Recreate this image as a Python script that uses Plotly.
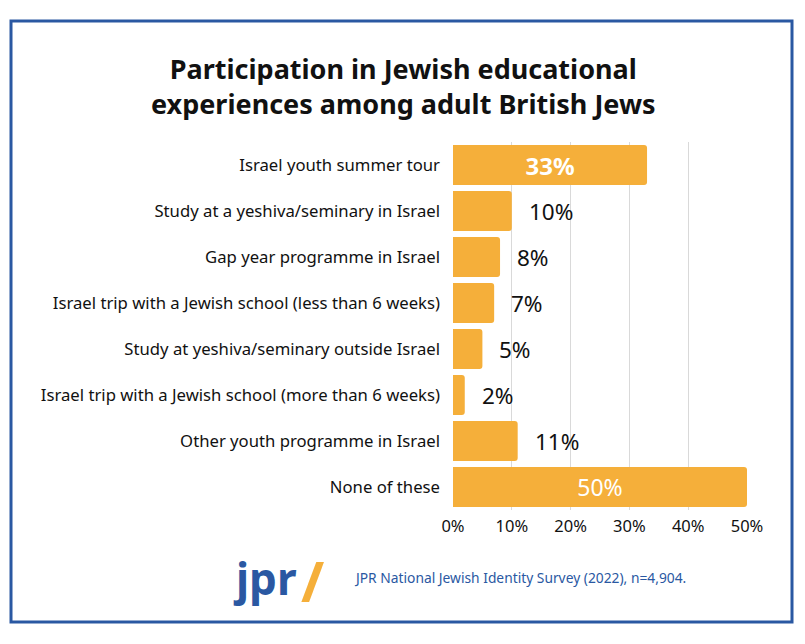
import plotly.graph_objects as go

categories = [
    "Israel youth summer tour",
    "Study at a yeshiva/seminary in Israel",
    "Gap year programme in Israel",
    "Israel trip with a Jewish school (less than 6 weeks)",
    "Study at yeshiva/seminary outside Israel",
    "Israel trip with a Jewish school (more than 6 weeks)",
    "Other youth programme in Israel",
    "None of these",
]
values = [33, 10, 8, 7, 5, 2, 11, 50]
tick_vals = [0, 10, 20, 30, 40, 50]
tick_text = ["0%", "10%", "20%", "30%", "40%", "50%"]
inside_threshold = 30

OFF = 8  # page body margin
W, H = 805 - OFF, 644 - OFF
ML, MR, MT, MB = 453 - OFF, 58, 142 - OFF, 134
FONT = "Noto Sans"
BAR = "#F5AF3A"
BLUE = "#2A58A2"

texts = [f"{v}%" if v >= inside_threshold else "" for v in values]

fig = go.Figure(go.Bar(
    x=values, y=categories, orientation="h",
    marker=dict(color=BAR, line=dict(width=0)),
    text=texts, textposition="inside", insidetextanchor="middle",
    textfont=dict(color="white", size=[24 if i == 0 else 23 for i in range(len(values))], family=FONT),
    texttemplate=[("<b>%{text}</b>" if i == 0 else "%{text}") for i in range(len(values))],
    hoverinfo="skip",
))

annotations = []
for c, v in zip(categories, values):
    if v < inside_threshold:
        annotations.append(dict(x=v, y=c, xref="x", yref="y", text=f"{v}%",
                                showarrow=False, xanchor="left", xshift=15,
                                font=dict(size=22.5, color="#111", family=FONT)))

pw = W - ML - MR
ph = H - MT - MB
def px_x(p):
    return (p - OFF - ML) / pw
def px_y(p):
    return 1 - (p - OFF - MT) / ph

# title
annotations.append(dict(x=px_x(403), y=px_y(86), xref="paper", yref="paper",
                        text="<b>Participation in Jewish educational<br>experiences among adult British Jews</b>",
                        showarrow=False, xanchor="center", yanchor="middle",
                        font=dict(size=27, color="#111", family=FONT)))
# logo
annotations.append(dict(x=px_x(231), y=px_y(578), xref="paper", yref="paper",
                        text="<b>jpr</b>", showarrow=False, xanchor="left", yanchor="middle",
                        font=dict(size=44, color=BLUE, family=FONT)))
annotations.append(dict(x=px_x(299), y=px_y(580), xref="paper", yref="paper",
                        text="<b>/</b>", showarrow=False, xanchor="left", yanchor="middle",
                        font=dict(size=56, color=BAR, family=FONT)))
annotations.append(dict(x=px_x(352), y=px_y(577), xref="paper", yref="paper",
                        text="JPR National Jewish Identity Survey (2022), n=4,904.",
                        showarrow=False, xanchor="left", yanchor="middle",
                        font=dict(size=13.8, color=BLUE, family=FONT)))

fig.update_layout(
    width=W, height=H,
    margin=dict(l=ML, r=MR, t=MT, b=MB, pad=0),
    paper_bgcolor="white", plot_bgcolor="white",
    showlegend=False,
    bargap=0.13,
    barcornerradius=3,
    font=dict(family=FONT, color="#111"),
    xaxis=dict(range=[0, 50], tickvals=tick_vals, ticktext=tick_text,
               showgrid=True, gridcolor="#D9D9D9", gridwidth=1,
               zeroline=False, showline=False, ticks="",
               ticklabelstandoff=4,
               tickfont=dict(size=16.5, color="#111"), fixedrange=True),
    yaxis=dict(autorange="reversed", showgrid=False, zeroline=False, ticks="",
               ticklabelstandoff=12,
               tickfont=dict(size=16.7, color="#111")),
    annotations=annotations,
    shapes=[dict(type="rect", xref="paper", yref="paper",
                 x0=px_x(11), x1=px_x(792), y0=px_y(21), y1=px_y(622),
                 line=dict(color=BLUE, width=3), fillcolor="rgba(0,0,0,0)", layer="above")],
)

fig.write_html("out.html")
